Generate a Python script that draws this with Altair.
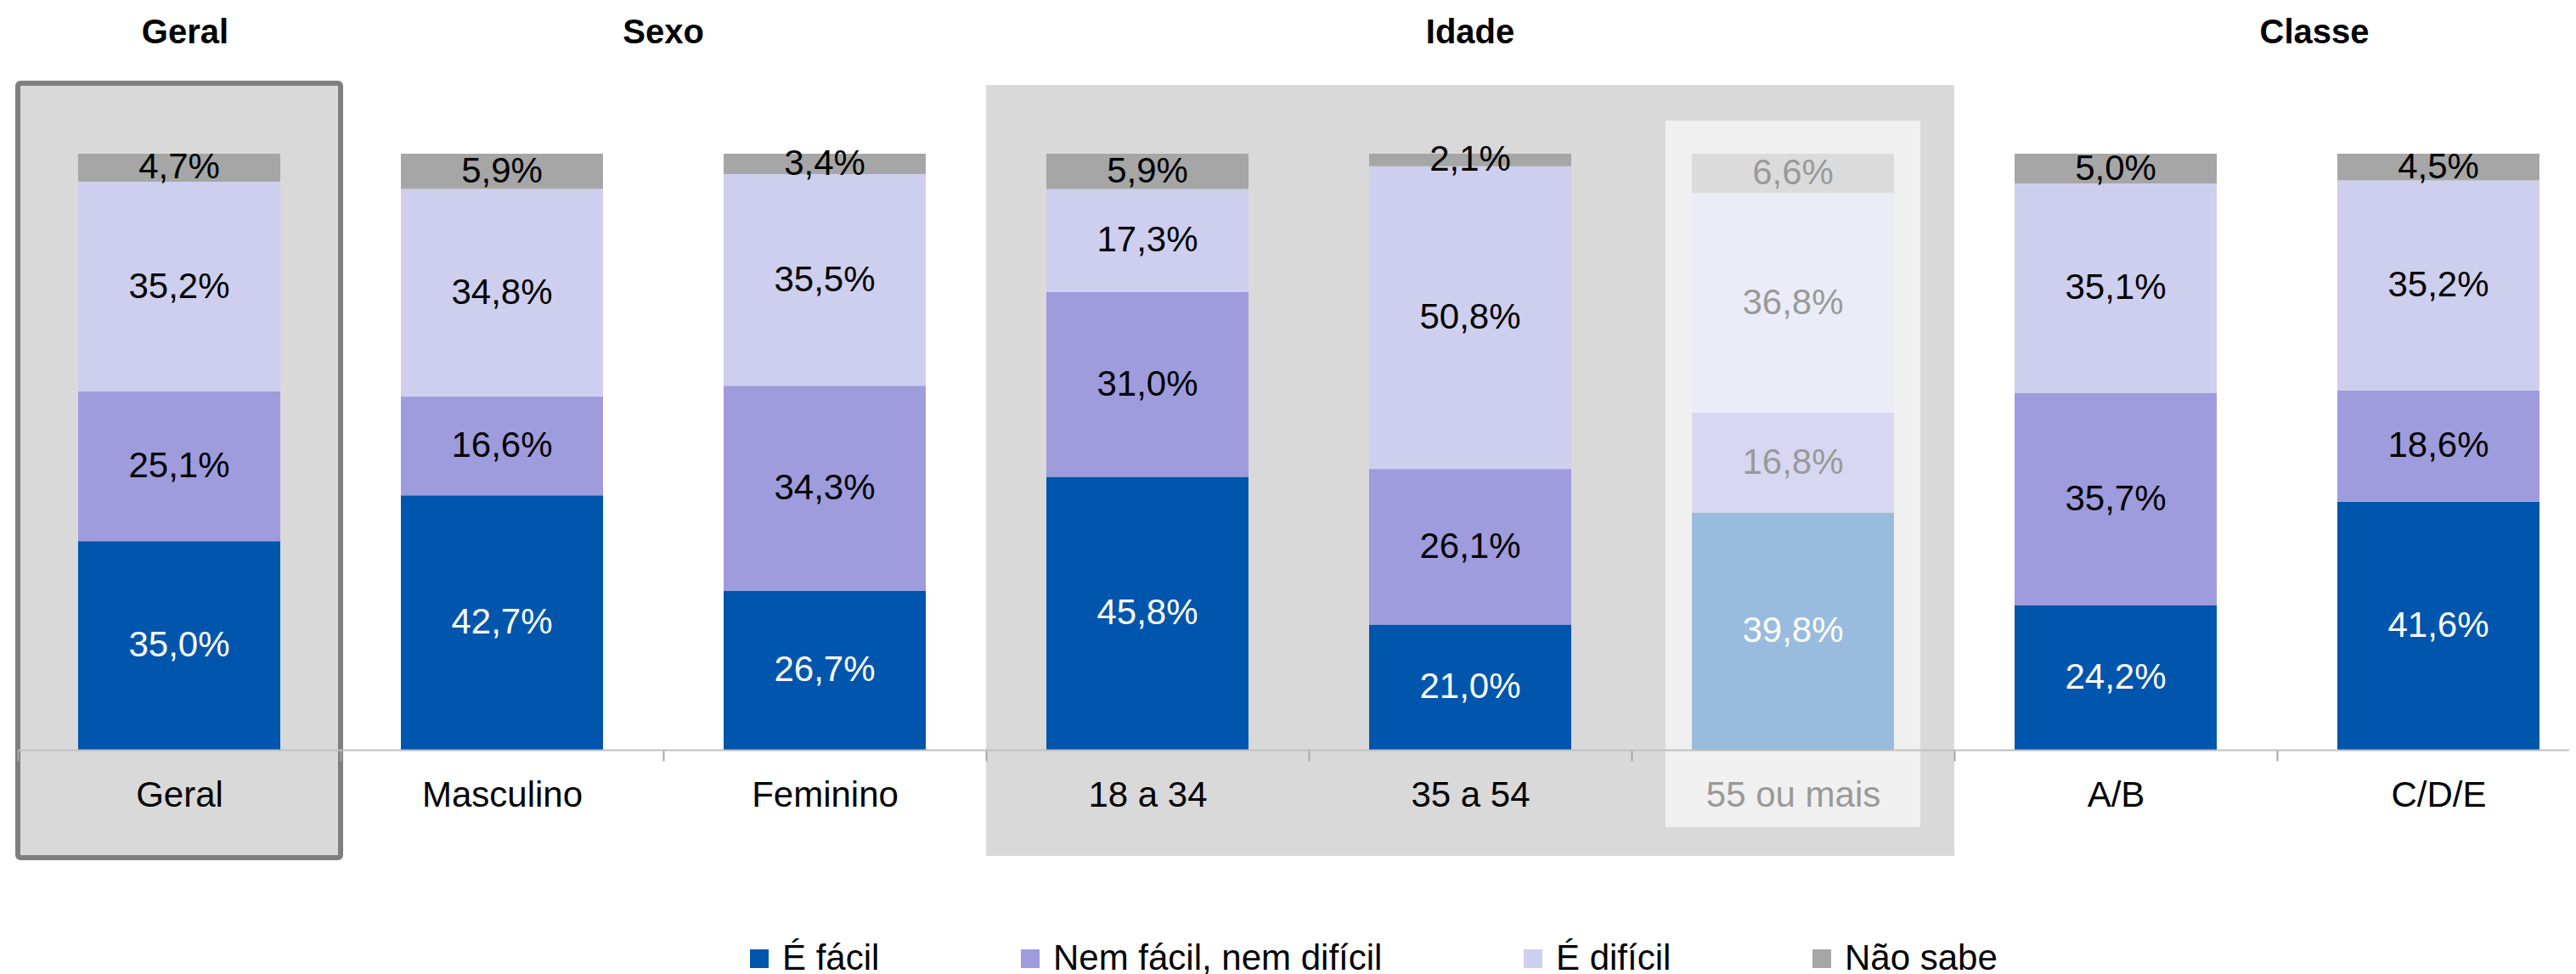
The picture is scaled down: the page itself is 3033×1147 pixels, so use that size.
import altair as alt
import pandas as pd

# ---- data ----
cats = ["Geral", "Masculino", "Feminino", "18 a 34", "35 a 54", "55 ou mais", "A/B", "C/D/E"]
series = ["É fácil", "Nem fácil, nem difícil", "É difícil", "Não sabe"]
facil = [35.0, 42.7, 26.7, 45.8, 21.0, 39.8, 24.2, 41.6]
nem = [25.1, 16.6, 34.3, 31.0, 26.1, 16.8, 35.7, 18.6]
dificil = [35.2, 34.8, 35.5, 17.3, 50.8, 36.8, 35.1, 35.2]
naosabe = [4.7, 5.9, 3.4, 5.9, 2.1, 6.6, 5.0, 4.5]
colors = ["#0055ad", "#9e9cdd", "#cecfee", "#a6a6a6"]

groups = ["Geral", "Sexo", "Idade", "Classe"]
group_anchor = ["Geral", "Feminino", "35 a 54", "C/D/E"]
idade_cats = ["18 a 34", "35 a 54", "55 ou mais"]
faded_cat = "55 ou mais"

rows = []
for i, c in enumerate(cats):
    for k, (s, vals) in enumerate(zip(series, [facil, nem, dificil, naosabe])):
        rows.append({"cat": c, "serie": s, "ordem": k, "valor": vals[i]})
df = pd.DataFrame(rows)
cat_df = pd.DataFrame({"cat": cats})
head_df = pd.DataFrame({"grupo": groups, "cat": group_anchor})

FONT = "Liberation Sans"

x_scale = alt.Scale(domain=cats, range=[0, 3040], paddingInner=0, paddingOuter=0)
y_scale = alt.Scale(domain=[0, 1.24644], nice=False, zero=False)

x_axis = alt.Axis(
    title=None, labelFont=FONT, labelFontSize=42, labelAngle=0, labelLimit=1000,
    labelColor={"condition": {"test": "datum.value == '55 ou mais'", "value": "#999999"}, "value": "black"},
    labelPadding=20, tickSize=13, tickBand="extent", tickColor="#a6a6a6", tickWidth=2,
    domainColor="#bfbfbf", domainWidth=2, zindex=1,
)


def xenc(bp=None):
    if bp is None:
        return alt.X("cat:N", scale=x_scale, sort=cats, axis=x_axis)
    return alt.X("cat:N", scale=x_scale, sort=cats, axis=x_axis, bandPosition=bp)


# backgrounds
bg_geral = alt.Chart(cat_df).transform_filter(alt.datum.cat == "Geral").mark_rect(
    fill="#d9d9d9", stroke="#7f7f7f", strokeWidth=6, cornerRadius=3
).encode(x=xenc(), y=alt.Y(datum=1.1182, scale=y_scale, axis=None), y2=alt.datum(-0.1809))

bg_idade = alt.Chart(cat_df).transform_filter(
    alt.FieldOneOfPredicate(field="cat", oneOf=idade_cats)
).mark_rect(fill="#d9d9d9").encode(
    x=xenc(), y=alt.Y(datum=1.1154, scale=y_scale, axis=None), y2=alt.datum(-0.1781)
)

base = alt.Chart(df).transform_stack(
    stack="valor", groupby=["cat"], as_=["y0", "y1"], offset="normalize",
    sort=[alt.SortField("ordem", order="ascending")],
).transform_calculate(
    mid="(datum.y0 + datum.y1) / 2",
    rotulo="replace(format(datum.valor, '.1f'), '.', ',') + '%'",
)

bars = base.mark_bar(width=alt.RelativeBandSize(0.6263)).encode(
    x=xenc(),
    y=alt.Y("y0:Q", scale=y_scale, axis=None),
    y2="y1:Q",
    color=alt.Color(
        "serie:N",
        scale=alt.Scale(domain=series, range=colors),
        legend=alt.Legend(
            orient="none", legendX=852, legendY=1100, direction="horizontal", columns=4,
            title=None, symbolType="square", symbolSize=484, symbolStrokeWidth=0,
            symbolOpacity=1, labelFont=FONT, labelFontSize=42, labelOffset=6,
            columnPadding=156, labelLimit=1000, padding=0,
        ),
    ),
)

labels = base.mark_text(font=FONT, fontSize=42, baseline="middle").encode(
    x=xenc(),
    y=alt.Y("mid:Q", scale=y_scale, axis=None),
    text="rotulo:N",
    color=alt.condition("datum.serie == 'É fácil'", alt.value("white"), alt.value("black")),
)

overlay = alt.Chart(cat_df).transform_filter(alt.datum.cat == faded_cat).mark_bar(
    width=alt.RelativeBandSize(0.79), fill="white", opacity=0.6
).encode(x=xenc(), y=alt.Y(datum=1.0556, scale=y_scale, axis=None), y2=alt.datum(-0.1296))

head_specs = [("Geral", 0.5, 7), ("Sexo", 0.0, 0), ("Idade", 0.5, 0), ("Classe", 0.0, 44)]
heads = []
for g, bp, dx in head_specs:
    heads.append(
        alt.Chart(head_df).transform_filter(alt.datum.grupo == g).mark_text(
            font=FONT, fontSize=40, fontWeight="bold", baseline="middle", dx=dx
        ).encode(x=xenc(bp), y=alt.Y(datum=1.2016, scale=y_scale, axis=None), text="grupo:N")
    )

chart = alt.layer(bg_geral, bg_idade, bars, labels, overlay, *heads).properties(
    width=3004, height=875,
    padding={"left": 13, "top": 0, "right": 0, "bottom": 270},
    autosize=alt.AutoSizeParams(type="none"),
).configure_view(stroke=None)

chart.save("out.html", embed_options={"renderer": "svg", "actions": False})
